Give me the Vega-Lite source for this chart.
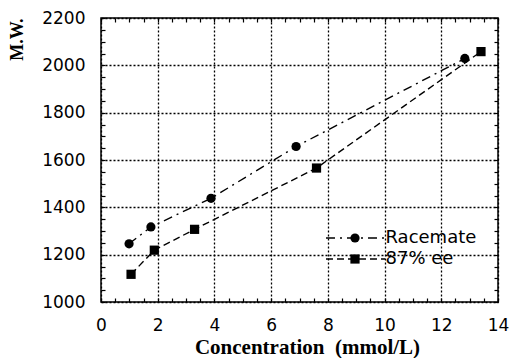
{
  "$schema": "https://vega.github.io/schema/vega-lite/v6.json",
  "autosize": {"type": "none"},
  "padding": {"left": 101, "top": 18, "right": 12, "bottom": 56},
  "width": 397,
  "height": 284,
  "background": "white",
  "config": {"view": {"stroke": "black", "strokeWidth": 1.5}},
  "data": {"values": [
    {"series": "Racemate", "conc": 0.99, "mw": 1246},
    {"series": "Racemate", "conc": 1.76, "mw": 1317},
    {"series": "Racemate", "conc": 3.88, "mw": 1438},
    {"series": "Racemate", "conc": 6.88, "mw": 1657},
    {"series": "Racemate", "conc": 12.83, "mw": 2029},
    {"series": "87% ee", "conc": 1.06, "mw": 1117},
    {"series": "87% ee", "conc": 1.88, "mw": 1219},
    {"series": "87% ee", "conc": 3.30, "mw": 1307},
    {"series": "87% ee", "conc": 7.60, "mw": 1566},
    {"series": "87% ee", "conc": 13.40, "mw": 2058}
  ]},
  "resolve": {"axis": {"x": "independent", "y": "independent"}},
  "layer": [
    {
      "mark": {"type": "line", "color": "black", "strokeWidth": 1.4},
      "encoding": {
        "x": {"field": "conc", "type": "quantitative",
          "scale": {"domain": [0, 14], "nice": false, "zero": false},
          "axis": {"orient": "bottom", "values": [0, 2, 4, 6, 8, 10, 12, 14], "format": "d", "grid": true, "gridDash": [2, 2], "gridColor": "black", "gridWidth": 1.3, "gridOpacity": 1,
            "ticks": false, "domain": false, "labelFont": "DejaVu Sans", "labelFontSize": 17, "labelColor": "black", "labelPadding": 15, "labelFlush": false, "labelOverlap": false,
            "title": "Concentration \u00a0(mmol/L)", "titleFont": "Liberation Serif", "titleFontWeight": "bold", "titleFontSize": 21, "titleColor": "black", "titlePadding": 3, "titleX": 206}},
        "y": {"field": "mw", "type": "quantitative",
          "scale": {"domain": [1000, 2200], "nice": false, "zero": false},
          "axis": {"orient": "left", "values": [1000, 1200, 1400, 1600, 1800, 2000, 2200], "format": "d", "grid": true, "gridDash": [2, 2], "gridColor": "black", "gridWidth": 1.3, "gridOpacity": 1,
            "ticks": false, "domain": false, "labelFont": "DejaVu Sans", "labelFontSize": 17, "labelColor": "black", "labelPadding": 16, "labelFlush": false, "labelOverlap": false,
            "title": "M.W.", "titleFont": "Liberation Serif", "titleFontWeight": "bold", "titleFontSize": 18, "titleColor": "black", "titleAnchor": "end", "titlePadding": 15}},
        "detail": {"field": "series", "type": "nominal"},
        "strokeDash": {"field": "series", "type": "nominal",
          "scale": {"domain": ["87% ee", "Racemate"], "range": [[7, 4], [9, 5, 2, 5]]},
          "legend": {"orient": "none", "legendX": 245.5, "legendY": 211, "title": null, "padding": 0,
            "values": ["Racemate", "87% ee"],
            "labelFont": "DejaVu Sans", "labelFontSize": 18, "labelColor": "black", "labelOffset": 21,
            "symbolType": "M-6.556,0H6.556", "symbolSize": 81, "symbolStrokeWidth": 1.3, "symbolStrokeColor": "black", "symbolFillColor": "transparent", "rowPadding": 3}}
      }
    },
    {
      "mark": {"type": "point", "filled": true, "color": "black", "opacity": 1, "size": 85},
      "encoding": {
        "x": {"field": "conc", "type": "quantitative",
          "axis": {"orient": "bottom", "values": [0, 0.5, 1, 1.5, 2, 2.5, 3, 3.5, 4, 4.5, 5, 5.5, 6, 6.5, 7, 7.5, 8, 8.5, 9, 9.5, 10, 10.5, 11, 11.5, 12, 12.5, 13, 13.5, 14],
            "grid": false, "labels": false, "domain": false, "tickSize": -4, "tickColor": "black", "tickWidth": 1.2, "title": null}},
        "y": {"field": "mw", "type": "quantitative",
          "axis": {"orient": "left", "values": [1000, 1050, 1100, 1150, 1200, 1250, 1300, 1350, 1400, 1450, 1500, 1550, 1600, 1650, 1700, 1750, 1800, 1850, 1900, 1950, 2000, 2050, 2100, 2150, 2200],
            "grid": false, "labels": false, "domain": false, "tickSize": -4, "tickColor": "black", "tickWidth": 1.2, "title": null}},
        "shape": {"field": "series", "type": "nominal",
          "scale": {"domain": ["Racemate", "87% ee"], "range": ["circle", "square"]},
          "legend": {"orient": "none", "legendX": 245, "legendY": 211, "title": null, "padding": 0,
            "labelFont": "DejaVu Sans", "labelFontSize": 18, "labelColor": "transparent", "labelOffset": 0, "labelExpr": "''",
            "symbolSize": 85, "symbolFillColor": "black", "symbolStrokeColor": "black", "symbolStrokeWidth": 0, "symbolOpacity": 1, "rowPadding": 3}}
      }
    },
    {
      "mark": {"type": "point", "opacity": 0},
      "encoding": {
        "x": {"field": "conc", "type": "quantitative",
          "axis": {"orient": "top", "values": [0, 0.5, 1, 1.5, 2, 2.5, 3, 3.5, 4, 4.5, 5, 5.5, 6, 6.5, 7, 7.5, 8, 8.5, 9, 9.5, 10, 10.5, 11, 11.5, 12, 12.5, 13, 13.5, 14],
            "grid": false, "labels": false, "domain": false, "tickSize": -4, "tickColor": "black", "tickWidth": 1.2, "title": null}},
        "y": {"field": "mw", "type": "quantitative",
          "axis": {"orient": "right", "values": [1000, 1050, 1100, 1150, 1200, 1250, 1300, 1350, 1400, 1450, 1500, 1550, 1600, 1650, 1700, 1750, 1800, 1850, 1900, 1950, 2000, 2050, 2100, 2150, 2200],
            "grid": false, "labels": false, "domain": false, "tickSize": -4, "tickColor": "black", "tickWidth": 1.2, "title": null}}
      }
    }
  ]
}
